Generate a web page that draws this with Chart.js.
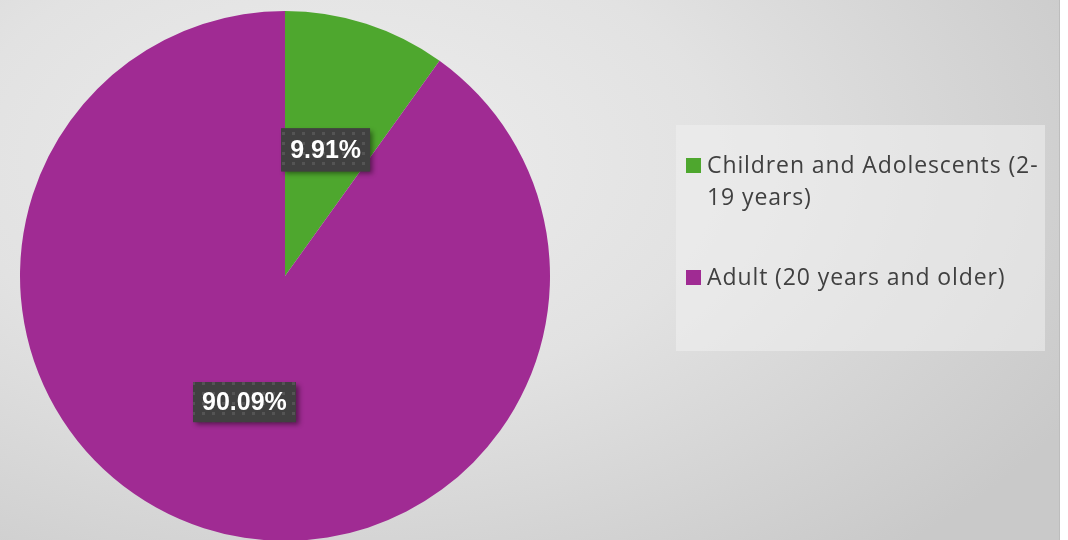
<!DOCTYPE html>
<html><head><meta charset="utf-8">
<script src="https://cdn.jsdelivr.net/npm/chart.js@4/dist/chart.umd.min.js"></script>
<style>
html,body{margin:0;padding:0;width:1068px;height:540px;overflow:hidden;background:#fff;}
#bg{position:absolute;left:0;top:0;width:1059px;height:540px;
 background:radial-gradient(ellipse 80% 95% at 32% 30%, #ededed 0%, #e2e2e2 45%, #c9c9c9 100%);
 border-right:1px solid #bdbdbd;}
#wrap{position:absolute;left:0;top:0;width:1068px;height:560px;}
#legend{position:absolute;left:676px;top:125px;width:369px;height:226px;background:rgba(240,240,240,0.55);
 font-family:"Open Sans",sans-serif;font-size:23px;letter-spacing:0.9px;color:#404040;}
.item{position:absolute;left:31px;line-height:32px;width:345px;white-space:nowrap;}
.sw{position:absolute;left:10px;width:15px;height:15px;}
</style></head>
<body>
<div id="bg"></div>
<div id="wrap"><canvas id="c"></canvas></div>
<div id="legend"></div>
<script>
const categories = ["Children and Adolescents (2-19 years)", "Adult (20 years and older)"];
const legendLines = [["Children and Adolescents (2-", "19 years)"], ["Adult (20 years and older)"]];
const values = [9.91, 90.09];
const labels = ["9.91%", "90.09%"];
const colors = ["#4EA72E", "#A02B93"];

// legend
const lg = document.getElementById('legend');
const itemTops = [23, 135];
legendLines.forEach((lines, i) => {
  const sw = document.createElement('div');
  sw.className = 'sw';
  sw.style.top = (itemTops[i] + 10) + 'px';
  sw.style.background = colors[i];
  lg.appendChild(sw);
  const it = document.createElement('div');
  it.className = 'item';
  it.style.top = itemTops[i] + 'px';
  it.innerHTML = lines.join('<br>');
  lg.appendChild(it);
});

// pattern for label boxes
const pc = document.createElement('canvas');
pc.width = 10; pc.height = 10;
const px = pc.getContext('2d');
px.fillStyle = '#404040'; px.fillRect(0,0,10,10);
px.fillStyle = '#545454'; px.fillRect(2,2,3,3);

const labelPlugin = {
  id: 'boxLabels',
  afterDatasetsDraw(chart) {
    const ctx = chart.ctx;
    const meta = chart.getDatasetMeta(0);
    const pat = ctx.createPattern(pc, 'repeat');
    meta.data.forEach((arc, i) => {
      const mid = (arc.startAngle + arc.endAngle) / 2;
      const r = arc.outerRadius * 0.5;
      const x = arc.x + Math.cos(mid) * r;
      const y = arc.y + Math.sin(mid) * r;
      ctx.save();
      ctx.font = 'bold 25px "Liberation Sans", Arial, sans-serif';
      const w = ctx.measureText(labels[i]).width + 18;
      const h = i === 0 ? 43 : 40;
      ctx.shadowColor = 'rgba(0,0,0,0.45)';
      ctx.shadowBlur = 5;
      ctx.shadowOffsetX = 3;
      ctx.shadowOffsetY = 3;
      ctx.fillStyle = '#404040';
      ctx.fillRect(x - w/2, y - h/2, w, h);
      ctx.shadowColor = 'transparent';
      ctx.fillStyle = pat;
      ctx.fillRect(x - w/2, y - h/2, w, h);
      ctx.fillStyle = '#ffffff';
      ctx.textAlign = 'center';
      ctx.textBaseline = 'middle';
      ctx.fillText(labels[i], x, y + 1);
      ctx.restore();
    });
  }
};

new Chart(document.getElementById('c'), {
  type: 'pie',
  data: {
    labels: categories,
    datasets: [{ data: values, backgroundColor: colors, borderWidth: 0 }]
  },
  options: {
    responsive: true,
    maintainAspectRatio: false,
    animation: false,
    layout: { padding: { left: 20, top: 11, right: 518, bottom: 19 } },
    plugins: { legend: { display: false }, tooltip: { enabled: false } }
  },
  plugins: [labelPlugin]
});
</script>
</body></html>
